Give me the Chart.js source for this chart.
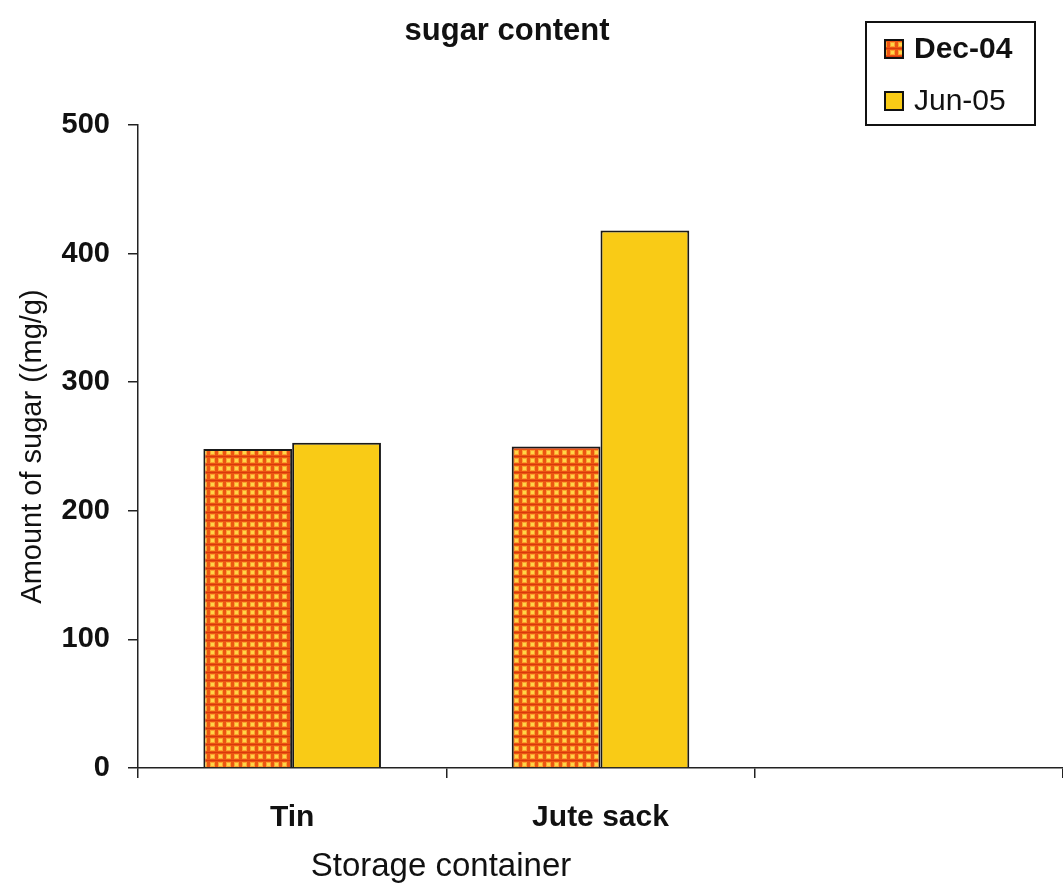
<!DOCTYPE html>
<html>
<head>
<meta charset="utf-8">
<script src="https://cdn.jsdelivr.net/npm/chart.js@4.4.1/dist/chart.umd.min.js"></script>
<style>
html,body{margin:0;padding:0;background:#fff;}
#wrap{width:1063px;height:888px;position:relative;}
</style>
</head>
<body>
<div id="wrap"><canvas id="c" width="1063" height="888"></canvas></div>
<script>
const categories = ["Tin", "Jute sack", ""];
const seriesNames = ["Dec-04", "Jun-05"];
const dec04 = [248, 250, null];
const jun05 = [253, 418, null];
const yTicks = [0, 100, 200, 300, 400, 500];
const chartTitle = "sugar content";
const xTitle = "Storage container";
const yTitle = "Amount of sugar ((mg/g)";

function makePattern() {
  const p = document.createElement('canvas');
  p.width = 8; p.height = 8;
  const g = p.getContext('2d');
  g.fillStyle = '#EC5512';
  g.fillRect(0, 0, 8, 8);
  g.fillStyle = '#D83A0C';
  g.fillRect(0, 0, 8, 1);
  g.fillStyle = '#FBA22E';
  g.fillRect(2, 2, 5, 5);
  g.fillStyle = '#FFD448';
  g.fillRect(3, 3, 3, 3);
  return document.getElementById('c').getContext('2d').createPattern(p, 'repeat');
}
const decFill = makePattern();
const junFill = '#F9CB16';

const FONT = 'Arial, "Liberation Sans", sans-serif';

const decor = {
  id: 'decor',
  afterDraw(chart) {
    const ctx = chart.ctx;
    ctx.save();
    ctx.fillStyle = '#111';
    ctx.textBaseline = 'middle';
    ctx.textAlign = 'center';
    ctx.font = 'bold 31px ' + FONT;
    ctx.fillText(chartTitle, 507, 31);
    ctx.font = '33px ' + FONT;
    ctx.fillText(xTitle, 441, 867);
    // legend
    ctx.lineWidth = 2;
    ctx.strokeStyle = '#111';
    ctx.strokeRect(866, 22, 169, 103);
    const fills = [decFill, junFill];
    const ys = [49, 101];
    ctx.textAlign = 'left';
    for (let i = 0; i < seriesNames.length; i++) {
      ctx.fillStyle = fills[i];
      ctx.fillRect(885, ys[i] - 9, 18, 18);
      ctx.lineWidth = 2;
      ctx.strokeRect(885, ys[i] - 9, 18, 18);
      ctx.fillStyle = '#111';
      ctx.font = (i === 0 ? 'bold ' : '') + '30px ' + FONT;
      ctx.fillText(seriesNames[i], 914, ys[i] + 1);
    }
    ctx.restore();
  }
};

new Chart(document.getElementById('c'), {
  type: 'bar',
  data: {
    labels: categories,
    datasets: [
      { label: seriesNames[0], data: dec04, backgroundColor: decFill, borderColor: '#1a1a1a', borderWidth: 2 },
      { label: seriesNames[1], data: jun05, backgroundColor: junFill, borderColor: '#1a1a1a', borderWidth: 2 }
    ]
  },
  options: {
    responsive: false,
    animation: false,
    devicePixelRatio: 1,
    layout: { padding: { top: 125, left: 0, right: 0, bottom: 0 } },
    plugins: { legend: { display: false }, title: { display: false }, tooltip: { enabled: false } },
    datasets: { bar: { barPercentage: 1, categoryPercentage: 0.576 } },
    scales: {
      x: {
        offset: true,
        grid: { offset: true, drawOnChartArea: false, drawTicks: true, tickLength: 10, color: '#222', lineWidth: 1.5 },
        border: { display: true, color: '#222', width: 1.5 },
        ticks: { color: '#111', font: { family: FONT, size: 30, weight: 'bold' }, padding: 22, maxRotation: 0 },
        afterFit(s) { s.height = 120; }
      },
      y: {
        min: 0, max: 500,
        afterBuildTicks(s) { s.ticks = yTicks.map(v => ({ value: v })); },
        grid: { drawOnChartArea: false, drawTicks: true, tickLength: 10, color: '#222', lineWidth: 1.5 },
        border: { display: true, color: '#222', width: 1.5 },
        ticks: { color: '#111', font: { family: FONT, size: 29, weight: 'bold' }, padding: 18 },
        title: { display: true, text: yTitle, color: '#111', font: { family: FONT, size: 29 }, padding: { top: 16, bottom: 0 } },
        afterFit(s) { s.width = 138; }
      }
    }
  },
  plugins: [decor]
});
</script>
</body>
</html>
